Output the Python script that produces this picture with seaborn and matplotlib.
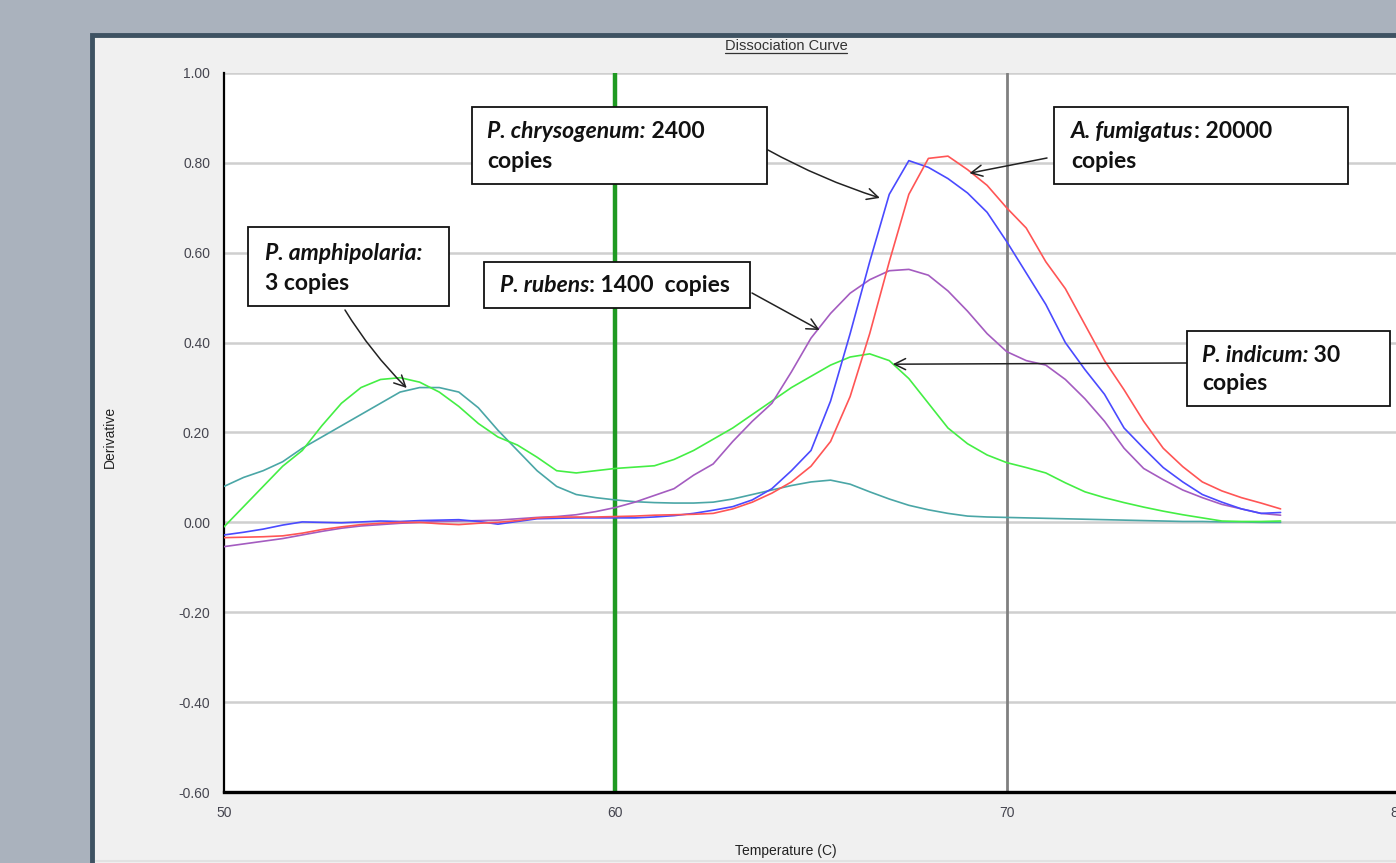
import matplotlib.pyplot as plt
import matplotlib.patches as mpatches
from matplotlib.lines import Line2D
import seaborn as sns
import pandas as pd

# temperature grid (C) and derivative readings for each sample
temps = [50.0, 50.5, 51.0, 51.5, 52.0, 52.5, 53.0, 53.5, 54.0, 54.5,
         55.0, 55.5, 56.0, 56.5, 57.0, 57.5, 58.0, 58.5, 59.0, 59.5,
         60.0, 60.5, 61.0, 61.5, 62.0, 62.5, 63.0, 63.5, 64.0, 64.5,
         65.0, 65.5, 66.0, 66.5, 67.0, 67.5, 68.0, 68.5, 69.0, 69.5,
         70.0, 70.5, 71.0, 71.5, 72.0, 72.5, 73.0, 73.5, 74.0, 74.5,
         75.0, 75.5, 76.0, 76.5, 77.0]

amphipolaria = [0.080, 0.100, 0.115, 0.135, 0.165, 0.190, 0.215, 0.240, 0.265, 0.290,
                0.300, 0.300, 0.290, 0.255, 0.205, 0.160, 0.115, 0.080, 0.062, 0.055,
                0.050, 0.046, 0.044, 0.043, 0.043, 0.045, 0.052, 0.062, 0.072, 0.082,
                0.090, 0.094, 0.085, 0.068, 0.052, 0.038, 0.028, 0.020, 0.014, 0.012,
                0.011, 0.010, 0.009, 0.008, 0.007, 0.006, 0.005, 0.004, 0.003, 0.002,
                0.002, 0.001, 0.001, 0.000, 0.000]

indicum = [-0.010, 0.035, 0.080, 0.125, 0.160, 0.215, 0.265, 0.300, 0.318, 0.322,
           0.312, 0.290, 0.258, 0.220, 0.190, 0.172, 0.145, 0.115, 0.110, 0.115,
           0.120, 0.123, 0.126, 0.140, 0.160, 0.185, 0.210, 0.240, 0.270, 0.300,
           0.325, 0.350, 0.368, 0.375, 0.360, 0.320, 0.265, 0.210, 0.175, 0.150,
           0.133, 0.122, 0.110, 0.088, 0.068, 0.055, 0.044, 0.034, 0.025, 0.017,
           0.010, 0.003, 0.002, 0.002, 0.003]

rubens = [-0.054, -0.048, -0.042, -0.036, -0.028, -0.020, -0.013, -0.008, -0.005, -0.002,
          0.000, 0.002, 0.003, 0.004, 0.005, 0.008, 0.011, 0.013, 0.017, 0.024,
          0.033, 0.045, 0.060, 0.075, 0.105, 0.130, 0.180, 0.225, 0.265, 0.335,
          0.410, 0.465, 0.510, 0.540, 0.560, 0.563, 0.550, 0.515, 0.470, 0.420,
          0.380, 0.360, 0.350, 0.318, 0.275, 0.225, 0.165, 0.120, 0.095, 0.072,
          0.055, 0.040, 0.030, 0.020, 0.016]

chrysogenum = [-0.028, -0.022, -0.015, -0.006, 0.001, 0.000, -0.001, 0.001, 0.003, 0.002,
               0.004, 0.005, 0.006, 0.002, -0.004, 0.002, 0.008, 0.009, 0.010, 0.010,
               0.010, 0.010, 0.012, 0.015, 0.020, 0.027, 0.035, 0.050, 0.075, 0.115,
               0.160, 0.270, 0.420, 0.580, 0.730, 0.805, 0.790, 0.765, 0.733, 0.690,
               0.625, 0.555, 0.485, 0.400, 0.340, 0.285, 0.210, 0.165, 0.122, 0.090,
               0.062, 0.045, 0.030, 0.020, 0.022]

fumigatus = [-0.034, -0.033, -0.032, -0.030, -0.024, -0.016, -0.010, -0.005, -0.002, 0.000,
             0.000, -0.003, -0.005, -0.002, 0.000, 0.004, 0.010, 0.012, 0.012, 0.012,
             0.013, 0.014, 0.016, 0.017, 0.018, 0.020, 0.030, 0.045, 0.065, 0.090,
             0.125, 0.180, 0.280, 0.420, 0.580, 0.730, 0.810, 0.815, 0.785, 0.750,
             0.700, 0.655, 0.580, 0.520, 0.440, 0.360, 0.295, 0.225, 0.165, 0.124,
             0.090, 0.070, 0.055, 0.043, 0.030]

y_ticks = [-0.6, -0.4, -0.2, 0.0, 0.2, 0.4, 0.6, 0.8, 1.0]
x_ticks = [50, 60, 70, 80]

colors = {
    'P. amphipolaria': '#4aa6a6',
    'P. indicum': '#44ee44',
    'P. rubens': '#a45cc0',
    'P. chrysogenum': '#4a4aff',
    'A. fumigatus': '#ff5555',
}

series = {
    'P. amphipolaria': amphipolaria,
    'P. indicum': indicum,
    'P. rubens': rubens,
    'P. chrysogenum': chrysogenum,
    'A. fumigatus': fumigatus,
}
rows = []
for name, vals in series.items():
    for t, v in zip(temps, vals):
        rows.append({'Temperature': t, 'Derivative': v, 'Sample': name})
df = pd.DataFrame(rows)

W, H = 1396, 863


def fx(px):
    return px / W


def fy(py):
    return 1 - py / H


sns.set_theme(style="white")
plt.rcParams['font.family'] = ['Liberation Sans', 'DejaVu Sans']
plt.rcParams['axes.unicode_minus'] = False

fig = plt.figure(figsize=(W / 100, H / 100), dpi=100)
fig.patch.set_facecolor('#aab2bd')

# grey application panel behind the chart
panel = mpatches.Rectangle((fx(92), -0.02), 1.0, fy(35) + 0.02, transform=fig.transFigure,
                           facecolor='#f0f0f0', edgecolor='#3e5262', lw=3.5, zorder=-5)
fig.add_artist(panel)
fig.add_artist(Line2D([fx(96), 1], [fy(861), fy(861)], color='#e2e2e2', lw=1.5, zorder=-4))

ax = fig.add_axes([fx(224), fy(792), (1398 - 224) / W, (792 - 73) / H])
ax.set_facecolor('white')

sns.lineplot(data=df, x='Temperature', y='Derivative', hue='Sample', palette=colors,
             estimator=None, sort=False, lw=1.2, legend=False, ax=ax, zorder=3)

ax.set_xlim(50, 80)
ax.set_ylim(-0.6, 1.0)
ax.set_xticks(x_ticks)
ax.set_yticks(y_ticks)
ax.set_yticklabels([f'{v:.2f}' for v in y_ticks])
ax.set_xticklabels([str(v) for v in x_ticks])
ax.tick_params(axis='both', length=0, labelsize=10, labelcolor='#45454f')
ax.tick_params(axis='y', pad=10)
ax.tick_params(axis='x', pad=10)
ax.set_xlabel('')
ax.set_ylabel('')
ax.grid(axis='y', color='#cfcfcf', lw=1.8)
ax.grid(axis='x', visible=False)
for s in ['top', 'right']:
    ax.spines[s].set_visible(False)
ax.spines['left'].set_color('black')
ax.spines['left'].set_linewidth(1.6)
ax.spines['bottom'].set_color('black')
ax.spines['bottom'].set_linewidth(2.4)

ax.axvline(60, color='#1f9a22', lw=3.2, zorder=2)
ax.axvline(70, color='#808080', lw=2.0, zorder=2)

# titles
title = fig.text(fx(786), fy(46), 'Dissociation Curve', ha='center', va='center',
                 fontsize=10.5, color='#333333')
fig.text(fx(786), fy(851), 'Temperature (C)', ha='center', va='center', fontsize=10, color='#222222')
fig.text(fx(110), fy(437), 'Derivative', ha='center', va='center', rotation=90,
         fontsize=10, color='#222222')

renderer = fig.canvas.get_renderer()
bb = title.get_window_extent(renderer)
fig.add_artist(Line2D([bb.x0 / W, bb.x1 / W], [(bb.y0 - 0.5) / H] * 2, color='#333333', lw=0.9))

# annotation boxes
boxes = [
    (248, 227, 449, 306),
    (472, 107, 767, 184),
    (484, 262, 750, 308),
    (1054, 107, 1348, 184),
    (1187, 331, 1390, 406),
]
for x0, y0, x1, y1 in boxes:
    fig.add_artist(mpatches.Rectangle((fx(x0), fy(y1)), (x1 - x0) / W, (y1 - y0) / H,
                                      transform=fig.transFigure, facecolor='white',
                                      edgecolor='#111111', lw=1.3, zorder=5))

label_font = dict(fontsize=16.5, fontweight='bold', family=['Lato', 'DejaVu Sans'],
                  color='#111111', va='center', ha='left', zorder=6)


def label(x_px, y_px, parts):
    x = fx(x_px)
    for txt, italic in parts:
        t = fig.text(x, fy(y_px), txt, fontstyle='italic' if italic else 'normal', **label_font)
        ext = t.get_window_extent(renderer)
        x = ext.x1 / W


label(265, 254, [('P. amphipolaria:', True)])
label(265, 283, [('3 copies', False)])
label(487, 132, [('P. chrysogenum:', True), (' 2400', False)])
label(487, 161, [('copies', False)])
label(500, 286, [('P. rubens', True), (': 1400  copies', False)])
label(1071, 132, [('A. fumigatus', True), (': 20000', False)])
label(1071, 161, [('copies', False)])
label(1202, 356, [('P. indicum:', True), (' 30', False)])
label(1202, 384, [('copies', False)])

# arrows: (head temperature, head derivative, tail px, tail py, curvature)
arrows = [
    (54.67, 0.299, 345, 310, 0.06),
    (66.76, 0.722, 768, 150, 0.05),
    (65.22, 0.428, 752, 293, 0.0),
    (69.05, 0.777, 1047, 158, 0.0),
    (67.09, 0.352, 1187, 363, 0.0),
]
for ht, hd, tx, ty, rad in arrows:
    ax.annotate('', xy=(ht, hd), xycoords='data', xytext=(fx(tx), fy(ty)),
                textcoords='figure fraction', annotation_clip=False,
                arrowprops=dict(arrowstyle='->', color='#222222', lw=1.1, mutation_scale=20,
                                shrinkA=0, shrinkB=0, connectionstyle=f'arc3,rad={rad}'),
                zorder=6)

fig.savefig('out.png', dpi=100, facecolor=fig.get_facecolor())
